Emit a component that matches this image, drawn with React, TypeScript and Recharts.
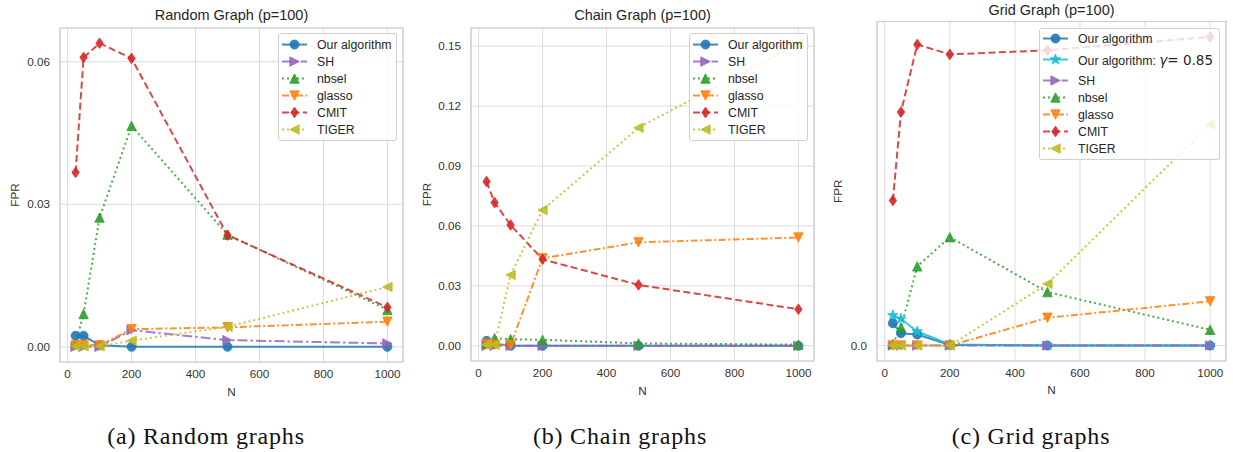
import React from 'react';
import { LineChart, Line, XAxis, YAxis, CartesianGrid, ReferenceArea } from 'recharts';

// sample sizes on the x axis
const nValues = [25, 50, 100, 200, 500, 1000];
const xTicks = [0, 200, 400, 600, 800, 1000];

// (a) Random graph, FPR
const randomOurs = [0.0023, 0.0023, 0.0003, 0.0, 0.0, 0.0];
const randomSH = [0.0, 0.0, 0.0, 0.0035, 0.0014, 0.0007];
const randomNbsel = [0.0008, 0.0069, 0.0272, 0.0465, 0.0236, 0.0078];
const randomGlasso = [0.0003, 0.0004, 0.0003, 0.0037, 0.0041, 0.0053];
const randomCMIT = [0.0367, 0.0609, 0.0639, 0.0607, 0.0235, 0.0083];
const randomTIGER = [0.0001, 0.0001, 0.0001, 0.0013, 0.0042, 0.0126];
const randomTicks = [0, 0.03, 0.06];

// (b) Chain graph, FPR
const chainOurs = [0.0025, 0.001, 0.0, 0.0, 0.0, 0.0];
const chainSH = [0.0, 0.0, 0.0, 0.0, 0.0, 0.0];
const chainNbsel = [0.0012, 0.0038, 0.0033, 0.003, 0.0012, 0.0006];
const chainGlasso = [0.001, 0.0006, 0.0004, 0.0438, 0.0518, 0.0542];
const chainCMIT = [0.0822, 0.0717, 0.0605, 0.0433, 0.0305, 0.0183];
const chainTIGER = [0.0005, 0.0005, 0.0355, 0.068, 0.1092, 0.1515];
const chainTicks = [0, 0.03, 0.06, 0.09, 0.12, 0.15];

// (c) Grid graph, FPR (only the 0.0 tick is labelled)
const gridOurs = [0.0065, 0.0036, 0.0032, 0.0002, 0.0, 0.0];
const gridOursGamma = [0.0088, 0.0078, 0.0041, 0.0003, 0.0, 0.0];
const gridSH = [0.0, 0.0, 0.0, 0.0, 0.0, 0.0];
const gridNbsel = [0.0005, 0.0053, 0.0231, 0.0316, 0.0156, 0.0046];
const gridGlasso = [0.0, 0.0, 0.0, 0.0, 0.0081, 0.0129];
const gridCMIT = [0.0423, 0.0681, 0.0878, 0.0849, 0.0861, 0.09];
const gridTIGER = [0.0, 0.0, 0.0, 0.0, 0.018, 0.0645];
const gridTicks = [0];

const SANS = '"Liberation Sans", Arial, sans-serif';
const INK = '#262626';

const COLORS = {
  blue: '#1f77b4', cyan: '#17becf', purple: '#9467bd', green: '#2ca02c',
  orange: '#ff7f0e', red: '#d62728', olive: '#bcbd22',
};
const DASH = {
  dashed: '7 3.5',
  dotted: '2 3',
  dashdot: '7 2.5 2 2.5',
  longdash: '10 3 2.5 3',
};

type Shape = 'circle' | 'star' | 'right' | 'up' | 'down' | 'diamond' | 'left';

interface Series {
  key: string;
  name: React.ReactNode;
  color: string;
  shape: Shape;
  dash?: string;
  values: number[];
}

function Marker({ shape, cx, cy, color }: { shape: Shape; cx: number; cy: number; color: string }) {
  const s = 4.7;
  const common = { fill: color, fillOpacity: 0.9, stroke: color, strokeWidth: 0.8 };
  switch (shape) {
    case 'circle':
      return <circle cx={cx} cy={cy} r={4.5} {...common} />;
    case 'up':
      return <polygon points={`${cx},${cy - s} ${cx - s},${cy + s} ${cx + s},${cy + s}`} {...common} />;
    case 'down':
      return <polygon points={`${cx},${cy + s} ${cx - s},${cy - s} ${cx + s},${cy - s}`} {...common} />;
    case 'right':
      return <polygon points={`${cx + s},${cy} ${cx - s},${cy - s} ${cx - s},${cy + s}`} {...common} />;
    case 'left':
      return <polygon points={`${cx - s},${cy} ${cx + s},${cy - s} ${cx + s},${cy + s}`} {...common} />;
    case 'diamond':
      return <polygon points={`${cx},${cy - 5.3} ${cx + 3.7},${cy} ${cx},${cy + 5.3} ${cx - 3.7},${cy}`} {...common} />;
    case 'star': {
      const pts: string[] = [];
      for (let i = 0; i < 10; i++) {
        const r = i % 2 === 0 ? 5.5 : 2.2;
        const a = -Math.PI / 2 + (i * Math.PI) / 5;
        pts.push(`${cx + r * Math.cos(a)},${cy + r * Math.sin(a)}`);
      }
      return <polygon points={pts.join(' ')} {...common} />;
    }
  }
  return null;
}

function LegendBox({ series, left, top, width, height, padTop, rows }: {
  series: Series[]; left: number; top: number; width: number; height: number; padTop: number; rows: number[];
}) {
  return (
    <div style={{
      position: 'absolute', left, top, width, height, boxSizing: 'border-box',
      border: '1px solid #d0d0d0', borderRadius: 3, background: 'rgba(255,255,255,0.8)',
      paddingTop: padTop, fontFamily: SANS, fontSize: 12.3, color: INK,
    }}>
      {series.map((s, i) => (
        <div key={s.key} style={{ display: 'flex', alignItems: 'center', height: rows[i] }}>
          <svg width={36} height={rows[i]} style={{ flex: 'none' }}>
            <line x1={3} x2={28} y1={rows[i] / 2} y2={rows[i] / 2} stroke={s.color}
              strokeWidth={2} strokeDasharray={s.dash} strokeOpacity={0.85} />
            <Marker shape={s.shape} cx={15.5} cy={rows[i] / 2} color={s.color} />
          </svg>
          <span style={{ marginLeft: 2, whiteSpace: 'nowrap' }}>{s.name}</span>
        </div>
      ))}
    </div>
  );
}

interface PanelProps {
  left: number;
  width: number;
  title: string;
  titleY: number;
  margin: { top: number; right: number; bottom: number; left: number };
  yAxisWidth: number;
  xAxisHeight: number;
  yDomain: [number, number];
  yTicks: number[];
  yDigits: number;
  series: Series[];
  legend: { left: number; top: number; width: number; height: number; padTop: number; rows: number[] };
  fprOffset: number;
  nOffset: number;
}

const X_DOMAIN: [number, number] = [-23.75, 1048.75];

function Panel(p: PanelProps) {
  const data = nValues.map((n, i) => {
    const row: Record<string, number> = { n };
    p.series.forEach((s) => { row[s.key] = s.values[i]; });
    return row;
  });
  const plotCenter = p.margin.left + p.yAxisWidth + (p.width - p.margin.left - p.yAxisWidth - p.margin.right) / 2;
  return (
    <div style={{ position: 'absolute', left: p.left, top: 0, width: p.width, height: 400 }}>
      <div style={{
        position: 'absolute', left: plotCenter - 150, width: 300, top: p.titleY - 9, height: 18,
        lineHeight: '18px', textAlign: 'center', fontFamily: SANS, fontSize: 14.5, color: INK,
      }}>{p.title}</div>
      <LineChart width={p.width} height={400} data={data} margin={p.margin}>
        <CartesianGrid stroke="#dcdcdc" strokeWidth={1} />
        <ReferenceArea x1={X_DOMAIN[0]} x2={X_DOMAIN[1]} y1={p.yDomain[0]} y2={p.yDomain[1]}
          fill="none" stroke="#cccccc" strokeWidth={1.2} />
        <XAxis dataKey="n" type="number" domain={X_DOMAIN} ticks={xTicks} height={p.xAxisHeight}
          axisLine={false} tickLine={false} interval={0}
          tick={{ fontFamily: SANS, fontSize: 11.7, fill: '#333' }}
          label={{ value: 'N', position: 'insideBottom', offset: p.nOffset, style: { fontFamily: SANS, fontSize: 11.7, fill: '#333' } }} />
        <YAxis type="number" domain={p.yDomain} ticks={p.yTicks} width={p.yAxisWidth} interval={0}
          axisLine={false} tickLine={false} tickMargin={4}
          tickFormatter={(v: number) => v.toFixed(p.yDigits)}
          tick={{ fontFamily: SANS, fontSize: 11.7, fill: '#333' }}
          label={{ value: 'FPR', angle: -90, position: 'insideLeft', offset: p.fprOffset, style: { textAnchor: 'middle', fontFamily: SANS, fontSize: 11.7, fill: '#333' } }} />
        {p.series.map((s) => (
          <Line key={s.key} dataKey={s.key} type="linear" stroke={s.color} strokeWidth={2}
            strokeOpacity={0.85} strokeDasharray={s.dash} isAnimationActive={false}
            dot={(d: any) => <Marker key={`${s.key}-${d.index}`} shape={s.shape} cx={d.cx} cy={d.cy} color={s.color} />}
            activeDot={false} />
        ))}
      </LineChart>
      <LegendBox series={p.series} {...p.legend} />
    </div>
  );
}

const randomSeries: Series[] = [
  { key: 'ours', name: 'Our algorithm', color: COLORS.blue, shape: 'circle', values: randomOurs },
  { key: 'sh', name: 'SH', color: COLORS.purple, shape: 'right', dash: DASH.longdash, values: randomSH },
  { key: 'nbsel', name: 'nbsel', color: COLORS.green, shape: 'up', dash: DASH.dotted, values: randomNbsel },
  { key: 'glasso', name: 'glasso', color: COLORS.orange, shape: 'down', dash: DASH.dashdot, values: randomGlasso },
  { key: 'cmit', name: 'CMIT', color: COLORS.red, shape: 'diamond', dash: DASH.dashed, values: randomCMIT },
  { key: 'tiger', name: 'TIGER', color: COLORS.olive, shape: 'left', dash: DASH.dotted, values: randomTIGER },
];

const chainSeries: Series[] = [
  { key: 'ours', name: 'Our algorithm', color: COLORS.blue, shape: 'circle', values: chainOurs },
  { key: 'sh', name: 'SH', color: COLORS.purple, shape: 'right', dash: DASH.longdash, values: chainSH },
  { key: 'nbsel', name: 'nbsel', color: COLORS.green, shape: 'up', dash: DASH.dotted, values: chainNbsel },
  { key: 'glasso', name: 'glasso', color: COLORS.orange, shape: 'down', dash: DASH.dashdot, values: chainGlasso },
  { key: 'cmit', name: 'CMIT', color: COLORS.red, shape: 'diamond', dash: DASH.dashed, values: chainCMIT },
  { key: 'tiger', name: 'TIGER', color: COLORS.olive, shape: 'left', dash: DASH.dotted, values: chainTIGER },
];

const gammaName = (
  <span>
    Our algorithm:{' '}
    <span style={{ fontFamily: '"DejaVu Sans", sans-serif', fontSize: 13.5 }}>
      <i>γ</i>= 0.85
    </span>
  </span>
);

const gridSeries: Series[] = [
  { key: 'ours', name: 'Our algorithm', color: COLORS.blue, shape: 'circle', values: gridOurs },
  { key: 'gamma', name: gammaName, color: COLORS.cyan, shape: 'star', values: gridOursGamma },
  { key: 'sh', name: 'SH', color: COLORS.purple, shape: 'right', dash: DASH.longdash, values: gridSH },
  { key: 'nbsel', name: 'nbsel', color: COLORS.green, shape: 'up', dash: DASH.dotted, values: gridNbsel },
  { key: 'glasso', name: 'glasso', color: COLORS.orange, shape: 'down', dash: DASH.dashdot, values: gridGlasso },
  { key: 'cmit', name: 'CMIT', color: COLORS.red, shape: 'diamond', dash: DASH.dashed, values: gridCMIT },
  { key: 'tiger', name: 'TIGER', color: COLORS.olive, shape: 'left', dash: DASH.dotted, values: gridTIGER },
];

const captions = [
  { text: '(a) Random graphs', x: 206 },
  { text: '(b) Chain graphs', x: 620 },
  { text: '(c) Grid graphs', x: 1031 },
];

export default function App() {
  return (
    <div style={{ position: 'absolute', left: 0, top: 0, width: 1233, height: 452, background: '#fff', overflow: 'hidden' }}>
      <Panel left={0} width={410} title="Random Graph (p=100)" titleY={15}
        margin={{ top: 28, right: 7, bottom: 0, left: 10 }} yAxisWidth={50} xAxisHeight={38}
        yDomain={[-0.0032, 0.0671]} yTicks={randomTicks} yDigits={2} series={randomSeries}
        legend={{ left: 278, top: 33, width: 119, height: 108, padTop: 2, rows: [17.1, 17.1, 17.1, 17.1, 17.1, 17.1] }}
        fprOffset={5} nOffset={4} />
      <Panel left={410} width={410} title="Chain Graph (p=100)" titleY={15}
        margin={{ top: 28, right: 6, bottom: 0, left: 11 }} yAxisWidth={50} xAxisHeight={39}
        yDomain={[-0.0076, 0.1591]} yTicks={chainTicks} yDigits={2} series={chainSeries}
        legend={{ left: 279, top: 33, width: 119, height: 108, padTop: 2, rows: [17.1, 17.1, 17.1, 17.1, 17.1, 17.1] }}
        fprOffset={6} nOffset={5} />
      <Panel left={820} width={413} title="Grid Graph (p=100)" titleY={10}
        margin={{ top: 21.5, right: 7, bottom: 0, left: 12 }} yAxisWidth={45} xAxisHeight={39}
        yDomain={[-0.0045, 0.0945]} yTicks={gridTicks} yDigits={1} series={gridSeries}
        legend={{ left: 219, top: 28, width: 181, height: 132, padTop: 1, rows: [17, 25, 17, 17, 17, 17, 17] }}
        fprOffset={6} nOffset={6} />
      {captions.map((c) => (
        <div key={c.text} style={{
          position: 'absolute', left: c.x - 150, width: 300, top: 421, height: 30, lineHeight: '30px',
          textAlign: 'center', fontFamily: '"Liberation Serif", serif', fontSize: 24, letterSpacing: 0.8, color: '#111',
        }}>{c.text}</div>
      ))}
    </div>
  );
}
